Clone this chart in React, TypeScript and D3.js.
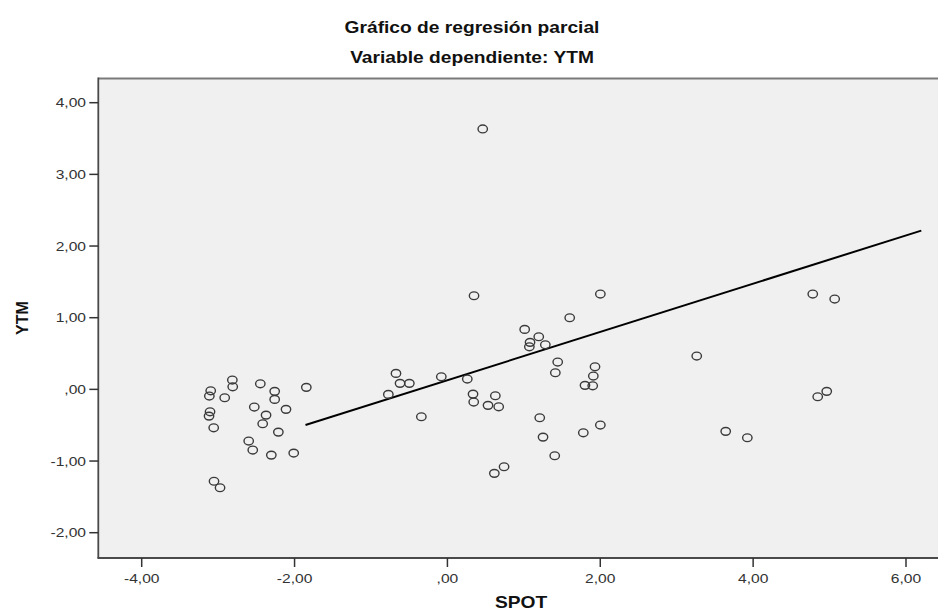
import React from "react";
import * as d3 from "d3";

const chartTitle = "Gráfico de regresión parcial";
const chartSubtitle = "Variable dependiente: YTM";
const xAxisTitle = "SPOT";
const yAxisTitle = "YTM";

const xTickValues = [-4, -2, 0, 2, 4, 6];
const xTickLabels = ["-4,00", "-2,00", ",00", "2,00", "4,00", "6,00"];
const yTickValues = [-2, -1, 0, 1, 2, 3, 4];
const yTickLabels = ["-2,00", "-1,00", ",00", "1,00", "2,00", "3,00", "4,00"];

const spotValues = [
  -2.814, -2.809, -3.097, -3.115, -2.914, -2.448, -2.26, -2.26, -1.846, -3.106,
  -3.119, -3.058, -2.527, -2.373, -2.417, -2.112, -2.212, -2.6, -2.547, -2.304,
  -2.011, -3.054, -2.975,
  0.462, 0.348, 2.001,
  1.6, 1.011, 1.195, 1.081, 1.072, 1.281, 1.443, 1.412, 1.931, 1.909, 1.8, 1.901,
  -0.673, -0.62, -0.498, -0.773, -0.08, 0.26, 0.335, 0.344, 0.627, 0.531, 0.671, -0.341,
  1.208, 1.251, 1.778, 2.001, 1.404, 0.741, 0.614,
  4.78, 5.067, 3.262, 4.963, 4.845, 3.641, 3.924,
];
const ytmValues = [
  0.13, 0.036, -0.02, -0.093, -0.117, 0.078, -0.028, -0.14, 0.028, -0.313,
  -0.373, -0.536, -0.247, -0.359, -0.48, -0.279, -0.596, -0.721, -0.847, -0.917,
  -0.889, -1.282, -1.373,
  3.634, 1.306, 1.33,
  0.999, 0.837, 0.734, 0.656, 0.594, 0.622, 0.381, 0.232, 0.315, 0.186, 0.056, 0.05,
  0.223, 0.084, 0.084, -0.07, 0.176, 0.144, -0.066, -0.177, -0.089, -0.223, -0.243, -0.382,
  -0.396, -0.666, -0.606, -0.498, -0.926, -1.08, -1.172,
  1.33, 1.26, 0.465, -0.028, -0.103, -0.586, -0.675,
];

const fitIntercept = 0.128;
const fitSlope = 0.3367;
const fitRange = [-1.857, 6.2];

const W = 938;
const H = 616;
const plotLeft = 98.3;
const plotRight = 940;
const plotTop = 78.5;
const plotBottom = 558;
const STRETCH = 1.2;
const FONT = "'Liberation Sans', Arial, sans-serif";

export default function App() {
  const x = d3.scaleLinear().domain([-4, 6]).range([141.7, 906]);
  const y = d3.scaleLinear().domain([-2, 4]).range([532.7, 102.7]);
  const line = d3
    .line<number>()
    .x((d) => x(d))
    .y((d) => y(fitIntercept + fitSlope * d));

  const stretchedText = (
    tx: number,
    ty: number,
    content: string,
    opts: { size: number; weight?: string; anchor?: string; fill?: string; key?: string }
  ) => (
    <g key={opts.key} transform={`translate(${tx},${ty}) scale(${STRETCH},1)`}>
      <text
        x={0}
        y={0}
        fontFamily={FONT}
        fontSize={opts.size}
        fontWeight={opts.weight || "normal"}
        textAnchor={opts.anchor || "middle"}
        dominantBaseline="central"
        fill={opts.fill || "#222"}
      >
        {content}
      </text>
    </g>
  );

  return (
    <svg
      width={W}
      height={H}
      style={{ position: "absolute", left: 0, top: 0, background: "#fff" }}
    >
      <rect x={0} y={0} width={W} height={H} fill="#fff" />
      <rect
        x={plotLeft}
        y={plotTop}
        width={plotRight - plotLeft}
        height={plotBottom - plotTop}
        fill="#f0f0f0"
      />
      <line x1={plotLeft} x2={plotRight} y1={plotTop} y2={plotTop} stroke="#7a7a7a" strokeWidth={2} />
      <line x1={plotLeft} x2={plotLeft} y1={plotTop - 1} y2={plotBottom} stroke="#4a4a4a" strokeWidth={1.8} />
      <line x1={plotLeft - 0.9} x2={plotRight} y1={plotBottom} y2={plotBottom} stroke="#4a4a4a" strokeWidth={1.8} />

      {yTickValues.map((v, i) => (
        <g key={"yt" + i}>
          <line x1={plotLeft - 9} x2={plotLeft} y1={y(v)} y2={y(v)} stroke="#333" strokeWidth={1.5} />
          {stretchedText(86, y(v), yTickLabels[i], { size: 13, anchor: "end", fill: "#333" })}
        </g>
      ))}
      {xTickValues.map((v, i) => (
        <g key={"xt" + i}>
          <line x1={x(v)} x2={x(v)} y1={plotBottom} y2={plotBottom + 9} stroke="#333" strokeWidth={1.5} />
          {stretchedText(x(v), 578, xTickLabels[i], { size: 13, fill: "#333" })}
        </g>
      ))}

      <path d={line(fitRange) || ""} fill="none" stroke="#000" strokeWidth={2} />

      {spotValues.map((sv, i) => (
        <ellipse
          key={"p" + i}
          cx={x(sv)}
          cy={y(ytmValues[i])}
          rx={4.7}
          ry={3.9}
          fill="none"
          stroke="#3a3a3a"
          strokeWidth={1.4}
        />
      ))}

      {stretchedText(472, 28, chartTitle, { size: 16, weight: "bold", fill: "#111" })}
      {stretchedText(472, 58, chartSubtitle, { size: 16, weight: "bold", fill: "#111" })}
      {stretchedText(521, 603, xAxisTitle, { size: 16, weight: "bold", fill: "#111" })}
      <text
        transform={`translate(22,318) rotate(-90)`}
        fontFamily={FONT}
        fontSize={16}
        fontWeight="bold"
        textAnchor="middle"
        dominantBaseline="central"
        fill="#111"
      >
        {yAxisTitle}
      </text>
    </svg>
  );
}
